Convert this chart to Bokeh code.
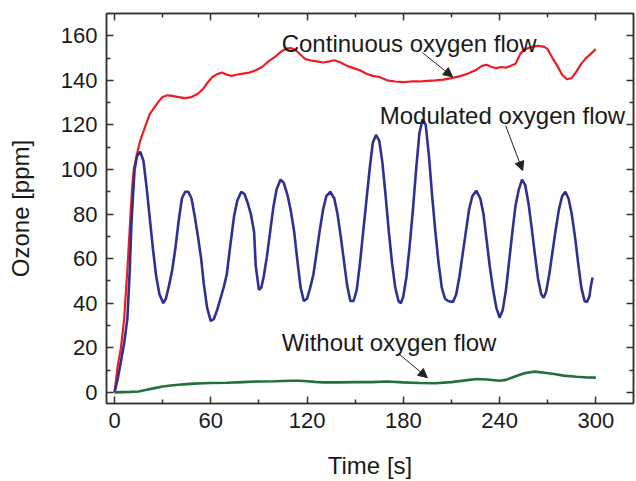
from bokeh.plotting import figure
from bokeh.models import (Range1d, FixedTicker, LinearAxis, Arrow, NormalHead,
                          ColumnDataSource)
from bokeh.core.properties import value
from bokeh.embed import file_html
from bokeh.resources import INLINE

FONT = "Liberation Sans"

# ---------------- data ----------------
cont_t = [0, 2, 4, 6, 8, 10, 11, 12, 14, 16, 18, 20, 22, 24, 26, 28, 30, 33, 36, 40,
          44, 48, 52, 55, 58, 61, 64, 67, 70, 73, 76, 80, 84, 88, 92, 96, 100, 104,
          107, 110, 113, 116, 119, 122, 126, 130, 134, 137, 141, 145, 149, 153, 157,
          161, 165, 170, 175, 180, 185, 190, 195, 200, 205, 210, 215, 220, 225, 229,
          232, 235, 238, 241, 244, 247, 250, 253, 256, 260, 264, 268, 270, 273, 276,
          279, 282, 285, 288, 291, 294, 297, 300]
cont_v = [0, 12, 20, 33, 55, 80, 92, 100, 107, 113, 117, 121, 125, 127, 129, 131, 132.5,
          133.3, 133, 132.5, 132, 132.5, 134, 136, 139, 141.5, 142.8, 143.5, 142.5, 142,
          142.5, 143, 143.5, 144.5, 146, 148.5, 150.5, 153, 154.3, 154.5, 153.5, 151.5,
          149.5, 149, 148.5, 148, 148.5, 149, 148, 146.5, 145.5, 144.5, 143, 142, 141.5,
          140, 139.5, 139.2, 139.5, 139.5, 139.8, 140, 140.3, 141, 141.8, 143, 144.5,
          146.5, 147, 146, 145.5, 146, 145.7, 146.5, 147.5, 152, 154, 155, 155.5, 155,
          154, 150, 146.5, 142.5, 140.5, 141, 144, 147.5, 150, 152, 154]

mod_t = [0, 2, 4, 6, 8, 9.5, 10.5, 11.5, 12.5, 14, 16, 18, 20, 22, 24, 26, 28, 30.4,
         32, 34, 36, 38, 40, 42, 44, 46, 48, 50, 52, 54, 55.6, 57.7, 60, 62, 64, 66, 68,
         70, 72, 74.5, 76.5, 79, 81, 83, 85, 87, 88, 90, 91.5, 93, 95, 97, 99, 101,
         103.5, 105.5, 108, 110, 112, 114, 116, 118, 120, 122, 124, 126, 128, 130, 132,
         134.5, 137, 139, 141, 143, 145, 147, 149, 151, 153, 155, 157, 159, 161, 163,
         165, 167, 169, 171, 173, 175, 177, 178.5, 180, 182, 184, 186, 188, 190, 192,
         194, 196, 198, 200, 202, 204, 206, 208, 211, 213, 215, 217, 219, 221, 223,
         225.5, 228, 230, 232, 234, 236, 238, 240, 242, 244, 246, 248, 250, 252, 254,
         256, 258, 260, 262, 264, 266, 267.5, 269, 271, 273, 275, 277, 279, 281, 283,
         285, 287, 289, 291, 293, 294.5, 296, 297, 298]
mod_v = [0, 6, 14, 22, 33, 55, 75, 88, 100, 106, 108, 104, 92, 78, 64, 52, 44, 40,
         42, 48, 55, 65, 77, 87, 90, 90, 87, 79, 70, 60, 49, 38, 32, 33, 37, 42, 47,
         53, 65, 79, 86, 90, 89, 85, 80, 72, 57, 46, 47, 52, 61, 72, 83, 91,
         95.5, 94, 88, 81, 72, 59, 47, 41, 42, 47, 53, 63, 73, 82, 88,
         90, 87, 80, 70, 59, 48, 41, 41, 46, 58, 72, 86, 100, 112, 115.5,
         113, 103, 88, 72, 58, 47, 41, 40, 43, 52, 66, 82, 100, 116, 122.5,
         120, 106, 88, 72, 58, 47, 42, 41, 40.5, 44, 52, 62, 72, 82, 88,
         90.5, 87, 80, 68, 56, 46, 38, 33.5, 37, 46, 59, 72, 84, 91, 95.5,
         93, 85, 74, 62, 51, 44, 42.5, 45, 53, 63, 73, 82, 88, 90, 87,
         80, 70, 58, 47, 41, 40.5, 43, 48, 51.5]

without_t = [0, 5, 10, 15, 20, 25, 30, 35, 40, 45, 50, 55, 60, 70, 80, 90, 100, 110,
             115, 120, 125, 130, 140, 150, 160, 170, 180, 190, 200, 210, 220, 226, 232,
             240, 244, 250, 256, 262, 268, 274, 280, 288, 295, 300]
without_v = [0, 0.1, 0.2, 0.4, 1.2, 1.9, 2.6, 3.1, 3.4, 3.7, 3.9, 4.1, 4.2, 4.3, 4.6,
             4.9, 5.0, 5.2, 5.2, 5.0, 4.7, 4.5, 4.5, 4.6, 4.6, 4.9, 4.5, 4.2, 4.1, 4.6,
             5.5, 6.0, 5.8, 5.2, 5.6, 7.2, 8.7, 9.3, 8.8, 8.2, 7.5, 7.0, 6.7, 6.6]

x_major = [0, 60, 120, 180, 240, 300]
x_minor = [30, 90, 150, 210, 270]
y_major = [0, 20, 40, 60, 80, 100, 120, 140, 160]
y_minor = [10, 30, 50, 70, 90, 110, 130, 150]

label_text = ["Continuous oxygen flow", "Modulated oxygen flow", "Without oxygen flow"]
label_x = [104.2, 165.3, 104.2]
label_y = [156.4, 124.1, 22.3]

arrow_x0 = [192, 243.8, 177]
arrow_y0 = [152.4, 119.7, 17.4]
arrow_x1 = [210.7, 254.4, 195]
arrow_y1 = [141.6, 99.5, 6.6]

# ---------------- figure ----------------
p = figure(width=636, height=481, output_backend="svg", toolbar_location=None,
           x_range=Range1d(-5, 323.5), y_range=Range1d(-5, 170),
           min_border_left=106, min_border_right=3, min_border_top=13,
           min_border_bottom=78)
p.background_fill_color = "white"
p.border_fill_color = "white"
p.grid.visible = False
p.outline_line_color = "#333333"
p.outline_line_width = 1.5

p.line(cont_t, cont_v, line_color="#ee1c24", line_width=2.2)
p.line(mod_t, mod_v, line_color="#2e3192", line_width=2.6)
p.line(without_t, without_v, line_color="#23703e", line_width=2.6)

p.text(x=label_x, y=label_y, text=label_text, text_font=value(FONT),
       text_font_size="24px", text_color="#1a1a1a", text_baseline="alphabetic",
       text_align="left")

asrc = ColumnDataSource(dict(x0=arrow_x0, y0=arrow_y0, x1=arrow_x1, y1=arrow_y1))
p.add_layout(Arrow(source=asrc, x_start="x0", y_start="y0", x_end="x1", y_end="y1",
                   line_color="#222222", line_width=1,
                   end=NormalHead(size=9, fill_color="#222222", line_color="#222222",
                                  line_width=1)))

xt = FixedTicker(ticks=x_major, minor_ticks=x_minor)
yt = FixedTicker(ticks=y_major, minor_ticks=y_minor)


def style(ax, labels=True):
    ax.axis_line_color = "#333333"
    ax.axis_line_width = 1.5
    ax.major_tick_line_color = "#333333"
    ax.minor_tick_line_color = "#333333"
    ax.major_tick_line_width = 1.5
    ax.minor_tick_line_width = 1.5
    ax.major_tick_in = 7
    ax.major_tick_out = 0
    ax.minor_tick_in = 4
    ax.minor_tick_out = 0
    if labels:
        ax.major_label_text_font = FONT
        ax.major_label_text_font_size = "22px"
        ax.major_label_text_color = "#1a1a1a"
        ax.axis_label_text_font = FONT
        ax.axis_label_text_font_size = "24px"
        ax.axis_label_text_font_style = "normal"
        ax.axis_label_text_color = "#1a1a1a"
    else:
        ax.major_label_text_font_size = "0px"
        ax.major_label_text_color = None
        ax.major_label_standoff = 0


xa = p.xaxis[0]
xa.ticker = xt
xa.axis_label = "Time [s]"
style(xa)
xa.major_label_standoff = 9
xa.axis_label_standoff = 21

ya = p.yaxis[0]
ya.ticker = yt
ya.axis_label = "Ozone [ppm]"
style(ya)
ya.major_label_standoff = 9
ya.axis_label_standoff = 24

top = LinearAxis(ticker=FixedTicker(ticks=x_major, minor_ticks=x_minor))
style(top, labels=False)
p.add_layout(top, "above")
right = LinearAxis(ticker=FixedTicker(ticks=y_major, minor_ticks=y_minor))
style(right, labels=False)
p.add_layout(right, "right")

open("out.html", "w").write(file_html(p, INLINE))
